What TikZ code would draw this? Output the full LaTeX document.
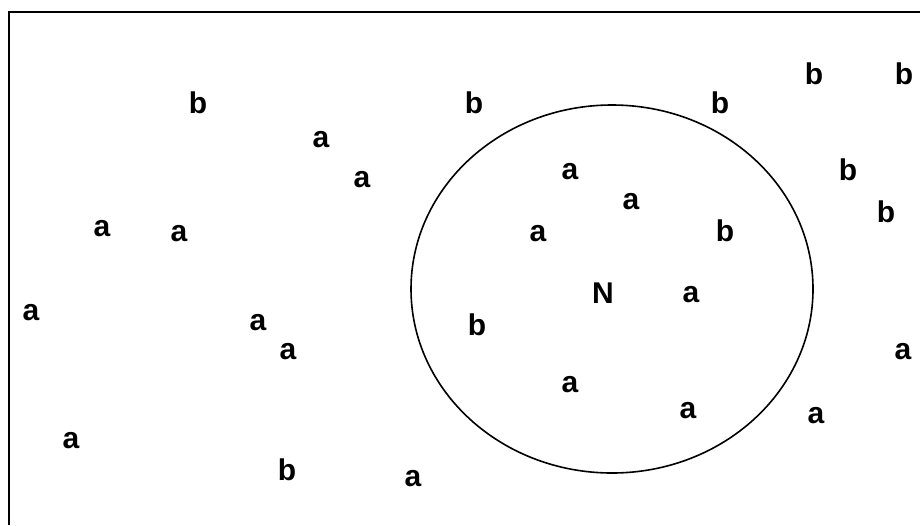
\documentclass[tikz,border=0pt]{standalone}
\usepackage{fontspec}
\setmainfont{Liberation Sans}
\usepackage{xcolor}
\usepackage{tikz}

\begin{document}
\begin{tikzpicture}[
  x=1pt, y=-1pt,
  pt/.style={inner sep=0pt, font=\fontsize{30}{30}\selectfont\bfseries},
  frame/.style={line width=1.8pt, color=black},
  hood/.style={line width=1.6pt, color=black}
]
  \useasboundingbox (0,0) rectangle (920,525);
  % frame (only top and left sides are in view)
  \draw[frame] (9,525) -- (9,12) -- (920,12);
  % neighbourhood of N
  \draw[hood] (612,289) ellipse [x radius=201, y radius=184];
  % class labels
  \node[pt] (n) at (603,293) {N};
  \node[pt] (b1) at (198,103) {b};
  \node[pt] (a1) at (321,140) {a};
  \node[pt] (a2) at (362,180) {a};
  \node[pt] (b2) at (474,103) {b};
  \node[pt] (b3) at (720,103) {b};
  \node[pt] (b4) at (814,74) {b};
  \node[pt] (b5) at (904,74) {b};
  \node[pt] (a3) at (570,172) {a};
  \node[pt] (a4) at (631,202) {a};
  \node[pt] (b6) at (848,170) {b};
  \node[pt] (b7) at (886,212) {b};
  \node[pt] (a5) at (102,229) {a};
  \node[pt] (a6) at (179,234) {a};
  \node[pt] (a7) at (538,234) {a};
  \node[pt] (b8) at (725,231) {b};
  \node[pt] (a8) at (691,295) {a};
  \node[pt] (a9) at (31,313) {a};
  \node[pt] (a10) at (258,323) {a};
  \node[pt] (a11) at (288,352) {a};
  \node[pt] (b9) at (477,325) {b};
  \node[pt] (a12) at (903,352) {a};
  \node[pt] (a13) at (570,385) {a};
  \node[pt] (a14) at (688,411) {a};
  \node[pt] (a15) at (816,416) {a};
  \node[pt] (a16) at (71,441) {a};
  \node[pt] (b10) at (287,470) {b};
  \node[pt] (a17) at (413,479) {a};
\end{tikzpicture}
\end{document}
